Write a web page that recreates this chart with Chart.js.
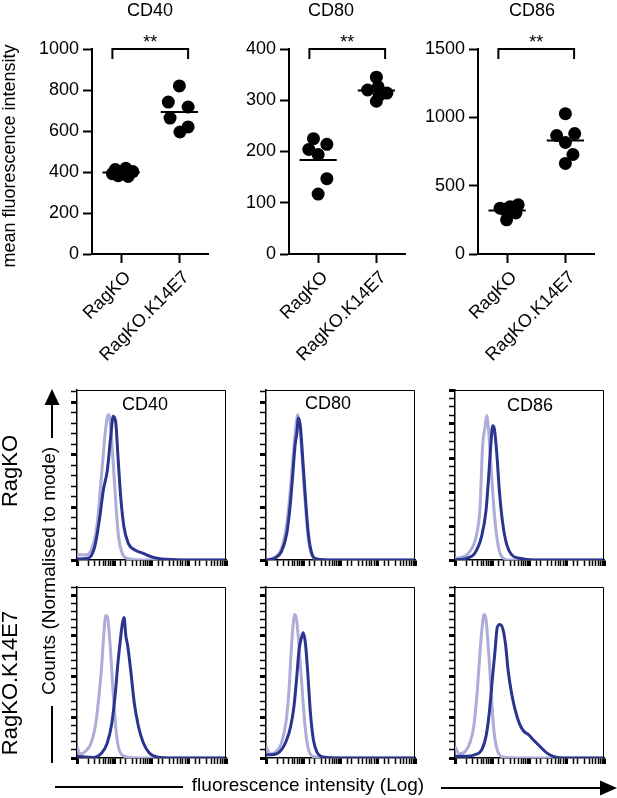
<!DOCTYPE html>
<html>
<head>
<meta charset="utf-8">
<script src="https://cdn.jsdelivr.net/npm/chart.js@4.4.0/dist/chart.umd.min.js"></script>
<style>
  html, body { margin: 0; padding: 0; background: #fff; }
  #fig { position: relative; width: 617px; height: 798px; overflow: hidden;
         font-family: "Liberation Sans", Arial, sans-serif; color: #000; }
  #fig canvas { position: absolute; }
  .lbl { position: absolute; white-space: nowrap; line-height: 1; transform: translate(-50%, -50%); }
  .rot { transform: translate(-50%, -50%) rotate(-90deg); }
</style>
</head>
<body>
<div id="fig">
  <canvas id="arrows" width="617" height="798" style="left:0;top:0"></canvas>

  <canvas id="mfi0" width="193" height="370" style="left:22px;top:0"></canvas>
  <canvas id="mfi1" width="193" height="370" style="left:219px;top:0"></canvas>
  <canvas id="mfi2" width="193" height="370" style="left:408px;top:0"></canvas>

  <canvas id="h00" width="162" height="185" style="left:67px;top:385px"></canvas>
  <canvas id="h01" width="162" height="185" style="left:256px;top:385px"></canvas>
  <canvas id="h02" width="162" height="185" style="left:445px;top:385px"></canvas>
  <canvas id="h10" width="162" height="186" style="left:67px;top:582px"></canvas>
  <canvas id="h11" width="162" height="186" style="left:256px;top:582px"></canvas>
  <canvas id="h12" width="162" height="186" style="left:445px;top:582px"></canvas>

  <div class="lbl" style="left:150px;top:10px;font-size:18px">CD40</div>
  <div class="lbl" style="left:331px;top:10px;font-size:18px">CD80</div>
  <div class="lbl" style="left:532px;top:10px;font-size:18px">CD86</div>
  <div class="lbl rot" style="left:9px;top:156px;font-size:18px">mean fluorescence intensity</div>

  <div class="lbl" style="left:145px;top:404px;font-size:18px">CD40</div>
  <div class="lbl" style="left:328px;top:403px;font-size:18px">CD80</div>
  <div class="lbl" style="left:530px;top:405px;font-size:18px">CD86</div>

  <div class="lbl rot" style="left:10px;top:471px;font-size:22px">RagKO</div>
  <div class="lbl rot" style="left:10px;top:683px;font-size:22px">RagKO.K14E7</div>
  <div class="lbl rot" style="left:48px;top:571px;font-size:19px">Counts (Normalised to mode)</div>
  <div class="lbl" style="left:308px;top:784px;font-size:19px">fluorescence intensity (Log)</div>
</div>

<script>
const categories = ['RagKO', 'RagKO.K14E7'];

// mean fluorescence intensity, one dot per mouse
const cd40RagKO = [412, 418, 402, 382, 378, 392];
const cd40K14E7 = [820, 741, 717, 663, 620, 595];
const cd80RagKO = [225, 204, 214, 194, 147, 117];
const cd80K14E7 = [345, 320, 326, 314, 310, 298];
const cd86RagKO = [335, 345, 360, 300, 250, 325];
const cd86K14E7 = [1027, 867, 881, 816, 728, 663];

const cd40Ticks = [0, 200, 400, 600, 800, 1000];
const cd80Ticks = [0, 100, 200, 300, 400];
const cd86Ticks = [0, 500, 1000, 1500];

// sideways spread of the dots inside each group (in category widths)
const spreadCD40 = [[-0.1, 0.08, 0.2, -0.05, 0.12, -0.15], [0, -0.19, 0.15, -0.16, 0.15, 0.01]];
const spreadCD80 = [[-0.08, -0.16, 0.15, 0, 0.15, 0], [0, -0.15, 0.03, 0.18, 0.05, 0]];
const spreadCD86 = [[-0.12, 0.05, 0.19, 0.15, -0.01, -0.04], [0, -0.15, 0.16, 0, 0.13, 0]];

// histograms: [fluorescence, % of mode]
const ragCD40Iso   = [[10,3],[18,2.9],[27,8.6],[35,21],[43,42],[53,65],[63,80],[71,83],[82,74],[94,55],[112,30],[131,13],[162,4],[215,1],[490,0],[100000,0]];
const ragCD40Stain = [[10,0.5],[20,1],[30,7.6],[40,23],[51,40],[65,51],[80,70],[94,82],[109,79],[126,59],[149,36],[182,19],[238,9.5],[360,5.7],[600,3.8],[1120,1.5],[2560,0.4],[8700,0],[100000,0]];
const ragCD80Iso   = [[10,0],[16,1.2],[25,5.5],[34,17],[42,33],[50,52],[58,68],[65,78],[71,83],[80,77],[92,60],[110,36],[132,15],[163,4],[220,0.6],[600,0],[100000,0]];
const ragCD80Stain = [[10,0],[17,1],[26,4.8],[36,15],[44,30],[52,48],[60,65],[67,72],[74,81],[84,76],[96,59],[114,36],[137,15],[169,3.8],[229,0.6],[640,0],[100000,0]];
const ragCD86Iso   = [[10,1],[17,2],[25,5],[37,14],[47,31],[55,67],[64,78],[71,85],[80,76],[94,53],[114,27],[140,10],[179,2],[300,0],[100000,0]];
const ragCD86Stain = [[10,0],[20,1],[34,4],[52,14],[68,29],[79,47],[91,67],[103,79],[114,77],[132,63],[155,41],[190,22],[245,9],[333,3],[555,1],[1260,0],[100000,0]];

const k14CD40Iso   = [[10,5.7],[12,2],[17,3.3],[24,7.4],[31,15.6],[38,28.7],[45,43],[52,60],[59,70],[66,69],[78,55],[92,34],[114,12],[146,2.5],[219,0.5],[610,0],[100000,0]];
const k14CD40Stain = [[10,0.8],[27,0.3],[46,2.5],[65,7.4],[86,17],[107,32],[126,47],[146,58],[165,66],[183,69],[205,60],[230,55],[277,43],[345,27],[445,15.6],[605,7.4],[875,2.5],[1385,0.5],[3900,0],[100000,0]];
const k14CD80Iso   = [[10,5.7],[13,2],[19,3.3],[26,7.4],[34,17],[41,32],[46,48],[52,63],[59,70.5],[66,68],[77,55],[93,34],[114,14],[143,3.3],[207,0.5],[640,0],[100000,0]];
const k14CD80Stain = [[10,1.6],[14,1.6],[24,3.3],[36,9],[46,15.6],[56,25],[66,38.5],[77,53],[89,59],[100,61.5],[114,56.5],[132,42],[156,22],[187,9],[239,2.5],[345,0.5],[970,0],[100000,0]];
const k14CD86Iso   = [[10,5.7],[13,2],[19,3.3],[25,7.4],[32,15.6],[40,34],[47,52],[54,65],[60,70.5],[68,68],[78,55],[92,35],[110,14],[140,3.3],[199,0.5],[555,0],[100000,0]];
const k14CD86Stain = [[10,0.8],[20,0.8],[34,1.6],[52,4],[68,10.7],[83,22],[102,40],[118,52],[136,64],[160,65.6],[195,63],[230,55],[267,43],[328,32],[407,24],[534,17],[713,13],[940,11.5],[1260,9],[1910,5.7],[2900,2.5],[4370,0.8],[10000,0],[100000,0]];

const lightBlue = '#aeacd8';
const darkBlue = '#2b3590';

Chart.defaults.font.family = '"Liberation Sans", Arial, sans-serif';
Chart.defaults.color = '#000';

function mean(arr) {
    return arr.reduce((a, b) => a + b, 0) / arr.length;
}

// significance bracket over the two groups
const bracketPlugin = {
    id: 'bracket',
    afterDraw(chart, args, opts) {
        const {ctx, scales: {x, y}} = chart;
        const x0 = x.getPixelForValue(-0.15);
        const x1 = x.getPixelForValue(1.15);
        const yy = y.getPixelForValue(y.max);
        ctx.save();
        ctx.strokeStyle = '#000';
        ctx.lineWidth = 2;
        ctx.beginPath();
        ctx.moveTo(x0, yy + 10);
        ctx.lineTo(x0, yy);
        ctx.lineTo(x1, yy);
        ctx.lineTo(x1, yy + 10);
        ctx.stroke();
        ctx.fillStyle = '#000';
        ctx.font = '18px "Liberation Sans", Arial, sans-serif';
        ctx.textAlign = 'center';
        ctx.fillText(opts.text, (x0 + x1) / 2, yy - 1);
        ctx.restore();
    }
};

// thin box on top and right of the histograms
const framePlugin = {
    id: 'frame',
    afterDraw(chart) {
        const {ctx, chartArea: a} = chart;
        ctx.save();
        ctx.strokeStyle = '#000';
        ctx.lineWidth = 1;
        ctx.beginPath();
        ctx.moveTo(a.left, a.top + 0.5);
        ctx.lineTo(a.right - 0.5, a.top + 0.5);
        ctx.lineTo(a.right - 0.5, a.bottom);
        ctx.stroke();
        ctx.restore();
    }
};

function mfiPanel(id, groups, spreads, ticks) {
    let datasets = [];
    groups.forEach(function(values, i) {
        datasets.push({
            data: values.map((v, k) => ({x: i + spreads[i][k], y: v})),
            pointRadius: 6.5,
            backgroundColor: '#000',
            borderWidth: 0
        });
        let m = mean(values);
        datasets.push({
            data: [{x: i - 0.32, y: m}, {x: i + 0.32, y: m}],
            showLine: true,
            borderColor: '#000',
            borderWidth: 2,
            pointRadius: 0
        });
    });
    new Chart(document.getElementById(id), {
        type: 'scatter',
        data: {datasets: datasets},
        plugins: [bracketPlugin],
        options: {
            responsive: false,
            animation: false,
            layout: {padding: {top: 49, right: 5, left: 0, bottom: 0}},
            plugins: {legend: {display: false}, tooltip: {enabled: false}, bracket: {text: '**'}},
            scales: {
                x: {
                    type: 'linear', min: -0.5, max: 1.5,
                    afterBuildTicks: s => { s.ticks = categories.map((c, i) => ({value: i})); },
                    afterFit: s => { s.height = 116; },
                    ticks: {callback: v => categories[v], minRotation: 45, maxRotation: 45,
                            autoSkip: false, font: {size: 18}, color: '#000', padding: 4, labelOffset: 7},
                    grid: {drawOnChartArea: false, tickLength: 9, tickWidth: 2, tickColor: '#000'},
                    border: {color: '#000', width: 2}
                },
                y: {
                    min: ticks[0], max: ticks[ticks.length - 1],
                    afterBuildTicks: s => { s.ticks = ticks.map(v => ({value: v})); },
                    afterFit: s => { s.width = 70; },
                    ticks: {callback: v => String(v), font: {size: 18}, color: '#000', padding: 4},
                    grid: {drawOnChartArea: false, tickLength: 9, tickWidth: 2, tickColor: '#000'},
                    border: {color: '#000', width: 2}
                }
            }
        }
    });
}

function isDecade(v) {
    let l = Math.log10(v);
    return Math.abs(l - Math.round(l)) < 1e-6;
}

function histPanel(id, iso, stain, yMax, yStep, yMajor) {
    new Chart(document.getElementById(id), {
        type: 'line',
        data: {
            datasets: [
                {data: stain, borderColor: darkBlue, borderWidth: 3, pointRadius: 0,
                 cubicInterpolationMode: 'monotone', fill: false},
                {data: iso, borderColor: lightBlue, borderWidth: 3, pointRadius: 0,
                 cubicInterpolationMode: 'monotone', fill: false}
            ]
        },
        plugins: [framePlugin],
        options: {
            responsive: false,
            animation: false,
            layout: {padding: {top: 5, right: 3, left: 0, bottom: 0}},
            plugins: {legend: {display: false}, tooltip: {enabled: false}},
            scales: {
                x: {
                    type: 'logarithmic', min: 10, max: 100000,
                    afterFit: s => { s.height = 10; },
                    ticks: {display: false, autoSkip: false},
                    grid: {drawOnChartArea: false, tickLength: 6, tickColor: '#000',
                           tickWidth: c => (c.tick && isDecade(c.tick.value)) ? 3 : 1.5},
                    border: {color: '#000', width: 1.5}
                },
                y: {
                    min: 0, max: yMax,
                    afterFit: s => { s.width = 10; },
                    ticks: {display: false, stepSize: yStep, includeBounds: false, autoSkip: false},
                    grid: {drawOnChartArea: false, tickLength: 6, tickColor: '#000',
                           tickWidth: c => (c.tick && c.tick.value % yMajor === 0) ? 3 : 1.5},
                    border: {color: '#000', width: 1.5}
                }
            }
        }
    });
}

mfiPanel('mfi0', [cd40RagKO, cd40K14E7], spreadCD40, cd40Ticks);
mfiPanel('mfi1', [cd80RagKO, cd80K14E7], spreadCD80, cd80Ticks);
mfiPanel('mfi2', [cd86RagKO, cd86K14E7], spreadCD86, cd86Ticks);

histPanel('h00', ragCD40Iso, ragCD40Stain, 97, 6, 30);
histPanel('h01', ragCD80Iso, ragCD80Stain, 97, 6, 30);
histPanel('h02', ragCD86Iso, ragCD86Stain, 100, 5, 20);
histPanel('h10', k14CD40Iso, k14CD40Stain, 84, 4, 20);
histPanel('h11', k14CD80Iso, k14CD80Stain, 84, 4, 20);
histPanel('h12', k14CD86Iso, k14CD86Stain, 84, 4, 20);

// axis arrows for the histogram block
const actx = document.getElementById('arrows').getContext('2d');
actx.strokeStyle = '#000';
actx.fillStyle = '#000';
actx.lineWidth = 2;
actx.beginPath();
actx.moveTo(52, 763); actx.lineTo(52, 706);
actx.moveTo(52, 438); actx.lineTo(52, 403);
actx.moveTo(55, 787); actx.lineTo(183, 787);
actx.moveTo(441, 788); actx.lineTo(602, 788);
actx.stroke();
actx.beginPath();
actx.moveTo(52, 389); actx.lineTo(44.5, 405); actx.lineTo(59.5, 405); actx.closePath();
actx.fill();
actx.beginPath();
actx.moveTo(617, 788); actx.lineTo(600, 780.5); actx.lineTo(600, 795.5); actx.closePath();
actx.fill();
</script>
</body>
</html>
